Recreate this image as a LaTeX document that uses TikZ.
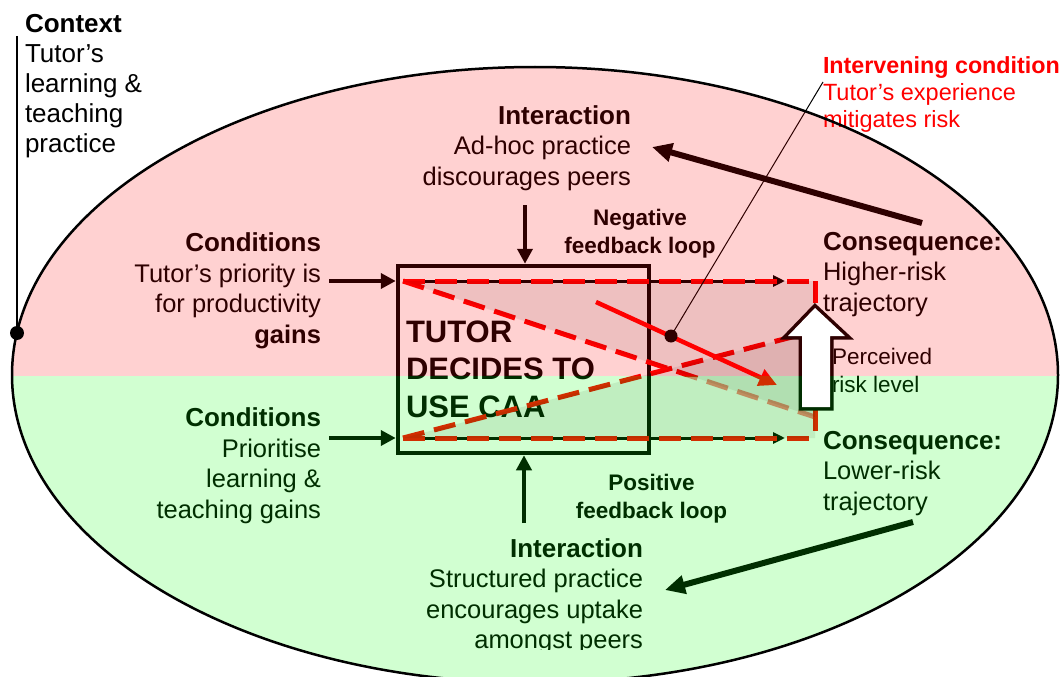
\documentclass[tikz,border=0pt]{standalone}
\usepackage{fontspec}
\setmainfont{Liberation Sans}
\usetikzlibrary{arrows.meta}
\newcommand\myfs[2]{\fontsize{#1}{#2}\selectfont}
\begin{document}
\begin{tikzpicture}[x=1pt,y=-1pt,
  txt/.style={inner sep=0pt, outer sep=0pt},
  main/.style={txt, font=\myfs{25.5}{30.5}},
  loopt/.style={txt, font=\bfseries\myfs{22.5}{28}},
  conarrow/.style={line width=4.5pt, -{Triangle[length=15pt,width=15pt]}},
  bigarrow/.style={line width=6pt, -{Triangle[length=20pt,width=18pt]}},
  underarrow/.style={line width=3pt, -{Triangle[length=12pt,width=11pt]}},
  reddash/.style={red, line width=5pt, dash pattern=on 22pt off 10pt},
  shade/.style={fill=black, fill opacity=0.08}]
\useasboundingbox (0,0) rectangle (1061,677);
\fill[white] (0,0) rectangle (1061,677);

% named points
\coordinate (tl) at (403,281);
\coordinate (tr) at (815,281);
\coordinate (br) at (815,438);
\coordinate (bl) at (403,438);
\coordinate (dr) at (815,417);
\coordinate (ur) at (815,331);
\coordinate (tipT) at (785,281);
\coordinate (tipB) at (785,438);

% decision box
\node[draw, line width=4.5pt, minimum width=251pt, minimum height=187pt, inner sep=0pt] (box) at (523.5,359.5) {};
\node[txt, font=\bfseries\myfs{31}{37.5}, anchor=base west, align=left] (tutor) at (406,417) {TUTOR\\DECIDES TO\\USE CAA};

% trajectories
\draw[underarrow] (tl) -- (tipT);
\draw[underarrow] (bl) -- (tipB);
\draw[reddash] (tl) -- (tr);
\draw[reddash] (bl) -- (br);
\draw[reddash] (tr) -- (br);
\begin{scope}
\clip (0,0) rectangle (1061,376);
\draw[reddash] (tl) -- (dr);
\end{scope}
\begin{scope}
\clip (0,376) rectangle (1061,677);
\draw[reddash, draw opacity=0.5] (tl) -- (dr);
\end{scope}
\draw[reddash] (bl) -- (ur);

% grey trajectory wedges
\fill[shade] (tl) -- (tr) -- (dr) -- cycle;
\fill[shade] (bl) -- (br) -- (ur) -- cycle;

% intervening condition arrow
\coordinate (rs) at (596,302);
\coordinate (re) at (777,385);
\draw[red, line width=4.5pt, -{Triangle[length=18pt,width=17pt]}] (rs) -- (re);
\node[circle, fill=black, minimum size=13pt, inner sep=0pt] (dot) at (671,336) {};
\coordinate (ic) at (823,82);
\draw[line width=1pt] (dot.center) -- (ic);

% texts (base anchor = baseline of last line)
\node[txt, font=\myfs{26}{30}, anchor=base west, align=left] (context) at (25,152) {\textbf{Context}\\Tutor’s\\learning \&\\teaching\\practice};
\node[main, anchor=base east, align=right] (int1) at (631,185) {{\fontsize{26}{30.5}\selectfont\textbf{Interaction}}\\Ad-hoc practice\\discourages peers};
\node[loopt, anchor=base, align=center] (neg) at (640,253) {Negative\\feedback loop};
\node[main, anchor=base east, align=right] (cond1) at (321,343) {{\fontsize{26}{30.5}\selectfont\textbf{Conditions}}\\Tutor’s priority is\\for productivity\\\textbf{gains}};
\node[main, anchor=base east, align=right] (cond2) at (321,518) {{\fontsize{26}{30.5}\selectfont\textbf{Conditions}}\\Prioritise\\learning \&\\teaching gains};
\node[txt, font=\myfs{23.5}{27}, text=red, anchor=base west, align=left] (interv) at (823,127) {{\fontsize{23.3}{27}\selectfont\textbf{Intervening condition}}\\Tutor’s experience\\mitigates risk};
\node[main, anchor=base west, align=left] (cons1) at (823,311) {{\fontsize{26}{30.5}\selectfont\textbf{Consequence:}}\\Higher-risk\\trajectory};
\node[main, anchor=base west, align=left] (cons2) at (823,510) {{\fontsize{26}{30.5}\selectfont\textbf{Consequence:}}\\Lower-risk\\trajectory};
\node[txt, font=\myfs{22.5}{28}, anchor=base west, align=left] (perc) at (832,392) {Perceived\\risk level};
\node[loopt, anchor=base, align=center] (pos) at (651.5,518) {Positive\\feedback loop};
\begin{scope}
\clip (0,0) rectangle (1061,649);
\node[main, anchor=base east, align=right] (int2) at (643,648.5) {{\fontsize{26}{30.5}\selectfont\textbf{Interaction}}\\Structured practice\\encourages uptake\\amongst peers};
\end{scope}

% input arrows
\coordinate (c1) at (329,281);
\coordinate (c2) at (329,438);
\draw[conarrow] (c1) -- (box.west |- c1);
\draw[conarrow] (c2) -- (box.west |- c2);
\coordinate (i1) at (525,205);
\coordinate (i2) at (524,523);
\draw[conarrow] (i1) -- (box.north -| i1);
\draw[conarrow] (i2) -- (box.south -| i2);

% feedback arrows
\coordinate (a1s) at (922,223);
\coordinate (a1e) at (652,147);
\coordinate (a2s) at (913,522);
\coordinate (a2e) at (665,590);
\draw[bigarrow] (a1s) -- (a1e);
\draw[bigarrow] (a2s) -- (a2e);

% perceived risk block arrow outline
\def\riskarrow{(815,308) -- (845,336) -- (830,336) -- (830,407) -- (802,407) -- (802,336) -- (788,336) -- cycle}
\draw[line width=7pt, line join=miter] \riskarrow;

% coloured overlay
\begin{scope}
\clip (535,375) ellipse [x radius=523, y radius=308];
\fill[red, opacity=0.18] (0,0) rectangle (1061,376);
\fill[green, opacity=0.18] (0,376) rectangle (1061,700);
\end{scope}

\fill[white] \riskarrow;

% context ellipse
\draw[line width=2.5pt] (535,375) ellipse [x radius=523, y radius=308];
\coordinate (ctop) at (17,36);
\node[circle, fill=black, minimum size=14pt, inner sep=0pt] (cdot) at (17,333) {};
\draw[line width=2pt] (ctop) -- (cdot.center);
\end{tikzpicture}
\end{document}
